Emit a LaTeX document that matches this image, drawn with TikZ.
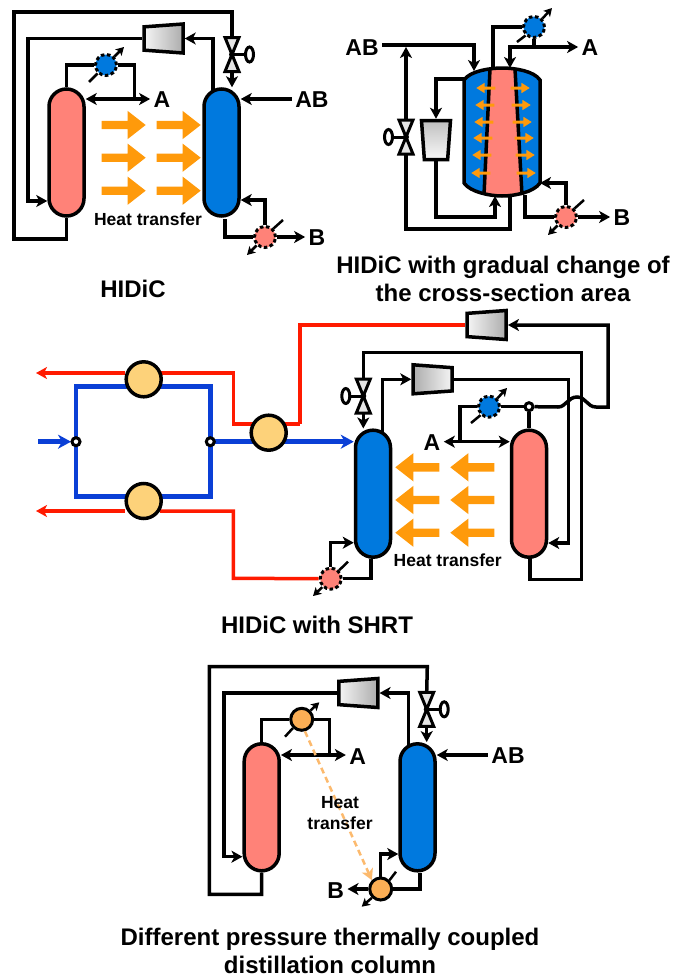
\documentclass[tikz,border=0pt]{standalone}
\usepackage{fontspec}
\setmainfont{Liberation Sans}
\usetikzlibrary{shapes.geometric, shapes.arrows, arrows.meta}
\definecolor{hotcol}{HTML}{FF8278}
\definecolor{coldcol}{HTML}{0079DE}
\definecolor{heatarrow}{HTML}{FF9A0B}
\definecolor{hxyellow}{HTML}{FDD27A}
\definecolor{hxorange}{HTML}{FBAE55}
\definecolor{hotline}{HTML}{FF1A00}
\definecolor{coldline}{HTML}{0A3FD6}
\begin{document}
\begin{tikzpicture}[
		x=1pt, y=-1pt,
		>={Stealth[length=11pt, width=12pt, inset=3pt]},
		column/.style={rectangle, draw, rounded corners=17.5pt, line width=3.5pt, minimum width=35pt, minimum height=127pt, inner sep=0pt},
		comp/.style={trapezium, trapezium stretches, draw, line width=3.5pt, inner sep=1pt, trapezium left angle=83, trapezium right angle=83, minimum width=29pt, minimum height=39pt},
		hx/.style={circle, draw, line width=3pt, dash pattern=on 3.5pt off 2.5pt, minimum size=21pt, inner sep=0pt},
		solidhx/.style={circle, draw, line width=3pt, fill=hxorange, minimum size=22pt, inner sep=0pt},
		bighx/.style={circle, draw, line width=3.5pt, fill=hxyellow, minimum size=35pt, inner sep=0pt},
		joint/.style={circle, draw, line width=3pt, fill=white, minimum size=8pt, inner sep=0pt},
		pipe/.style={line width=3.5pt},
		tickline/.style={line width=2.5pt, >={Stealth[length=8pt, width=9pt, inset=2pt]}},
		hotpipe/.style={line width=3.5pt, draw=hotline},
		coldpipe/.style={line width=4.5pt, draw=coldline, >={Stealth[length=13pt, width=14pt, inset=4pt]}},
		heat/.style={single arrow, fill=heatarrow, inner xsep=0pt, inner ysep=4pt, minimum height=44pt, minimum width=28pt, single arrow head extend=10pt, single arrow tip angle=76},
		heatleft/.style={heat, shape border rotate=180},
		tiny/.style={single arrow, fill=heatarrow, inner xsep=0pt, inner ysep=1.3pt, minimum height=19pt, minimum width=10pt, single arrow head extend=3.7pt, single arrow tip angle=64},
		tinyleft/.style={tiny, shape border rotate=180},
		stream/.style={font=\bfseries\fontsize{23}{26}\selectfont},
		note/.style={font=\bfseries\fontsize{17.5}{21.5}\selectfont, align=center},
		caption/.style={font=\bfseries\fontsize{24}{28}\selectfont, align=center},
		valve/.pic={
			\draw[line width=3pt, fill=gray!20] (-7,-17) -- (7,-17) -- (0,0) -- cycle;
			\draw[line width=3pt, fill=gray!20] (-7,17) -- (7,17) -- (0,0) -- cycle;
			\draw[line width=3pt] (0,0) -- (13,0);
			\fill (0,0) circle (3);
			\draw[line width=3pt, fill=white] (17.5,0) ellipse (4 and 7.5);
			\coordinate (-top) at (0,-17);
			\coordinate (-bot) at (0,17);
		}
	]
	\useasboundingbox (0,0) rectangle (673,977);

	% HIDiC
	\node[column, fill=hotcol] (hotA) at (66.5,152.5) {};
	\node[column, fill=coldcol] (coldA) at (221.5,152.5) {};
	\node[comp, shape border rotate=90, left color=gray!8, right color=gray!65] (compA) at (163.5,38.5) {};
	\pic (valveA) at (232,54.5) {valve};
	\node[hx, fill=coldcol] (condA) at (106,65) {};
	\node[hx, fill=hotcol] (rebA) at (265,237) {};
	\node[stream] (prodA) at (162,100) {A};
	\node[stream] (feedA) at (312,100) {AB};
	\node[stream] (bottA) at (317,238) {B};
	\node[heat] (heatA1) at (121,125) {};
	\node[heat] (heatA2) at (176,125) {};
	\node[heat] (heatA3) at (121,157.7) {};
	\node[heat] (heatA4) at (176,157.7) {};
	\node[heat] (heatA5) at (121,190.7) {};
	\node[heat] (heatA6) at (176,190.7) {};
	\node[note] (noteA) at (148,219) {Heat transfer};
	\node[caption] (capA) at (133,289) {HIDiC};

	\draw[pipe] (hotA.south) |- (14,239) |- (232,12) -- (valveA-top);
	\draw[pipe, ->] (valveA-bot) -- (coldA.north -| valveA-bot);
	\draw[pipe, ->] (213,91) |- (compA.east);
	\draw[pipe, ->] (compA.west) -| (28,201) -- (hotA.west |- 0,201);
	\draw[pipe] (hotA.north) |- (condA.west);
	\draw[pipe] (condA.east) -| (134.5,99);
	\draw[pipe, <->] (hotA.east |- 0,99) -- (prodA.west |- 0,99);
	\draw[pipe, ->] (feedA.west |- 0,99) -- (coldA.east |- 0,99);
	\draw[pipe] (225,219) |- (rebA.west);
	\draw[pipe, ->] (rebA.east) -- (bottA.west |- rebA.east);
	\draw[pipe, ->] (rebA.north) |- (coldA.east |- 0,200);
	\draw[tickline] (89,82) -- (condA.south west);
	\draw[tickline, ->] (condA.north east) -- (124,47);
	\draw[tickline] (283,220) -- (rebA.north east);
	\draw[tickline, ->] (rebA.south west) -- (247,255);

	% HIDiC with gradual change of the cross-section area
	\coordinate (vesselFeed) at (474,71);
	\coordinate (vesselVap) at (465,79);
	\coordinate (vesselOut) at (493,69);
	\coordinate (vesselRefl) at (510,68);
	\coordinate (vesselIn) at (495,196);
	\coordinate (vesselLiq) at (510,196);
	\coordinate (vesselRet) at (540,183);
	\coordinate (vesselDrain) at (525,195);
	\fill[coldcol] (464,80) .. controls (470,71) and (490,68) .. (502,68) .. controls (515,68) and (534,71) .. (540,80) -- (540,183) .. controls (534,192) and (515,196) .. (502,196) .. controls (490,196) and (470,192) .. (464,183) -- cycle;
	\fill[hotcol] (490,69) -- (515,69) -- (522,195) -- (484,195) -- cycle;
	\draw[pipe] (490,69) -- (484,195);
	\draw[pipe] (515,69) -- (522,195);
	\draw[pipe] (464,80) .. controls (470,71) and (490,68) .. (502,68) .. controls (515,68) and (534,71) .. (540,80) -- (540,183) .. controls (534,192) and (515,196) .. (502,196) .. controls (490,196) and (470,192) .. (464,183) -- cycle;
	\node[comp, shape border rotate=180, top color=gray!50, bottom color=gray!5] (compB) at (436,140) {};
	\pic[xscale=-1] (valveB) at (406,137) {valve};
	\node[hx, fill=coldcol] (condB) at (534,27) {};
	\node[hx, fill=hotcol] (rebB) at (566,217) {};
	\node[stream] (feedB) at (362,48) {AB};
	\node[stream] (prodB) at (590,48) {A};
	\node[stream] (bottB) at (622,218) {B};
	\node[tinyleft] (heatB1) at (487,88) {};
	\node[tinyleft] (heatB2) at (486,105) {};
	\node[tinyleft] (heatB3) at (485,122) {};
	\node[tinyleft] (heatB4) at (484,138) {};
	\node[tinyleft] (heatB5) at (483,155) {};
	\node[tinyleft] (heatB6) at (482,173) {};
	\node[tiny] (heatB7) at (519,88) {};
	\node[tiny] (heatB8) at (520,105) {};
	\node[tiny] (heatB9) at (521,122) {};
	\node[tiny] (heatB10) at (523,138) {};
	\node[tiny] (heatB11) at (524,155) {};
	\node[tiny] (heatB12) at (525,173) {};
	\node[caption] (capB) at (503,279) {HIDiC with gradual change of\\the cross-section area};

	\draw[pipe, ->] (feedB.east |- 0,45) -| (vesselFeed);
	\draw[pipe, ->] (valveB-top) -- (406,47);
	\draw[pipe] (valveB-bot) |- (510,229) -- (vesselLiq);
	\draw[pipe, ->] (vesselVap) -| (compB.north);
	\draw[pipe, ->] (compB.south) |- (495,217) -- (vesselIn);
	\draw[pipe] (vesselOut) |- (condB.west);
	\draw[pipe, <-] (vesselRefl) |- (534,47);
	\draw[pipe] (condB.south) -- (534,47);
	\draw[pipe, ->] (534,47) -- (prodB.west |- 0,47);
	\draw[pipe] (vesselDrain) |- (rebB.west);
	\draw[pipe, ->] (rebB.east) -- (bottB.west |- rebB.east);
	\draw[pipe, ->] (rebB.north) |- (vesselRet);
	\draw[tickline] (517,42) -- (condB.south west);
	\draw[tickline, ->] (condB.north east) -- (552,8);
	\draw[tickline] (584,200) -- (rebB.north east);
	\draw[tickline, ->] (rebB.south west) -- (548,235);

	% HIDiC with SHRT
	\node[column, fill=coldcol] (coldC) at (373,493.7) {};
	\node[column, fill=hotcol] (hotC) at (529,493.7) {};
	\node[comp, shape border rotate=90, left color=gray!8, right color=gray!65] (compC) at (486.7,325) {};
	\node[comp, shape border rotate=270, left color=gray!65, right color=gray!8] (compD) at (432.5,379.3) {};
	\pic[xscale=-1] (valveC) at (363.3,396) {valve};
	\node[hx, fill=coldcol] (condC) at (489,406.7) {};
	\node[hx, fill=hotcol] (rebC) at (330.7,578.7) {};
	\coordinate (inC) at (38,441.7);
	\coordinate (outUpC) at (36,373);
	\coordinate (outLowC) at (36,511);
	\coordinate (outHotC) at (300,424);
	\coordinate (splitC) at (76,441.7);
	\coordinate (mergeC) at (210.3,441.7);
	\draw[coldpipe, ->] (inC) -- (71,441.7);
	\draw[coldpipe] (splitC) |- (210.3,386.7) -- (mergeC);
	\draw[coldpipe] (splitC) |- (210.3,496.7) -- (mergeC);
	\draw[coldpipe, ->] (mergeC) -- (coldC.west |- mergeC);
	\draw[hotpipe, ->] (125,373) -- (outUpC);
	\draw[hotpipe] (160,373) -| (233.3,424) -- (outHotC);
	\draw[hotpipe] (outHotC) |- (compC.west);
	\draw[hotpipe, ->] (125,511) -- (outLowC);
	\draw[hotpipe] (160,511) -| (233.3,578.3) -- (rebC.west);
	\node[joint] (splitNode) at (splitC) {};
	\node[joint] (mergeNode) at (mergeC) {};
	\node[joint] (topC) at (529,406.7) {};
	\node[bighx] (hxC1) at (143.7,379.3) {};
	\node[bighx] (hxC2) at (143.7,501) {};
	\node[bighx] (hxC3) at (268.7,432.7) {};
	\node[stream] (prodC) at (432,443) {A};
	\node[heatleft] (heatC1) at (420,467.3) {};
	\node[heatleft] (heatC2) at (475,467.3) {};
	\node[heatleft] (heatC3) at (420,500) {};
	\node[heatleft] (heatC4) at (475,500) {};
	\node[heatleft] (heatC5) at (420,532.7) {};
	\node[heatleft] (heatC6) at (475,532.7) {};
	\node[note] (noteC) at (447.7,560.7) {Heat transfer};
	\node[caption] (capC) at (317,625) {HIDiC with SHRT};

	\draw[pipe] (hotC.north) -- (topC.south);
	\draw[pipe] (condC.east) -- (topC.west);
	\draw[pipe, ->] (topC.east) -- (558,407) .. controls (566,407) and (568,397) .. (577,397) .. controls (586,397) and (587,407) .. (596,407) -- (608,407) |- (compC.east);
	\draw[pipe] (condC.west) -| (460,441.7);
	\draw[pipe, <->] (prodC.east |- 0,441.7) -- (hotC.west |- 0,441.7);
	\draw[pipe] (valveC-top) |- (581.7,352.3) |- (530,579.3) -- (530,558);
	\draw[pipe, ->] (valveC-bot) -- (coldC.north -| valveC-bot);
	\draw[pipe, ->] (382.3,433) |- (compD.west);
	\draw[pipe, ->] (compD.east) -| (568.3,543) -- (hotC.east |- 0,543);
	\draw[pipe] (371,559) |- (rebC.east);
	\draw[pipe, ->] (rebC.north) |- (coldC.west |- 0,542.7);
	\draw[tickline] (471,423) -- (condC.south west);
	\draw[tickline, ->] (condC.north east) -- (507,388);
	\draw[tickline] (348,561.7) -- (rebC.north east);
	\draw[tickline, ->] (rebC.south west) -- (313,596);

	% Different pressure thermally coupled distillation column
	\node[column, fill=hotcol] (hotD) at (261.7,807.3) {};
	\node[column, fill=coldcol] (coldD) at (417.5,807.3) {};
	\node[comp, shape border rotate=90, left color=gray!8, right color=gray!65] (compE) at (358.3,693) {};
	\pic (valveD) at (426.7,709.3) {valve};
	\node[solidhx] (condD) at (301.7,719.3) {};
	\node[solidhx] (rebD) at (380.7,889) {};
	\node[stream] (prodD) at (357.7,757) {A};
	\node[stream] (feedD) at (508,756) {AB};
	\node[stream] (bottD) at (335.7,891) {B};

	\draw[pipe] (hotD.south) |- (209.3,894.3) |- (427.3,666.7) -- (valveD-top);
	\draw[pipe, ->] (valveD-bot) -- (coldD.north -| valveD-bot);
	\draw[pipe, ->] (408.3,746) |- (compE.east);
	\draw[pipe, ->] (compE.west) -| (224,856.7) -- (hotD.west |- 0,856.7);
	\draw[pipe] (hotD.north) |- (condD.west);
	\draw[pipe] (condD.east) -| (329.3,755);
	\draw[pipe, <->] (hotD.east |- 0,755) -- (prodD.west |- 0,755);
	\draw[pipe, ->] (feedD.west |- 0,755) -- (coldD.east |- 0,755);
	\draw[pipe] (420,873) |- (rebD.east);
	\draw[pipe, ->] (rebD.north) |- (coldD.west |- 0,854);
	\draw[pipe, ->] (rebD.west) -- (bottD.east |- rebD.west);
	\draw[tickline] (285,736.7) -- (condD.south west);
	\draw[tickline, ->] (condD.north east) -- (319.3,702.3);
	\draw[tickline] (396,871.7) -- (rebD.north east);
	\draw[tickline, ->] (rebD.south west) -- (361.7,906.7);
	\draw[line width=2.5pt, hxorange!85, dash pattern=on 6pt off 4pt, ->] (condD.-75) -- (rebD.north west);
	\node[note] (noteD) at (340,813) {Heat\\transfer};
	\node[caption] (capD) at (330,951) {Different pressure thermally coupled\\distillation column};

\end{tikzpicture}
\end{document}
